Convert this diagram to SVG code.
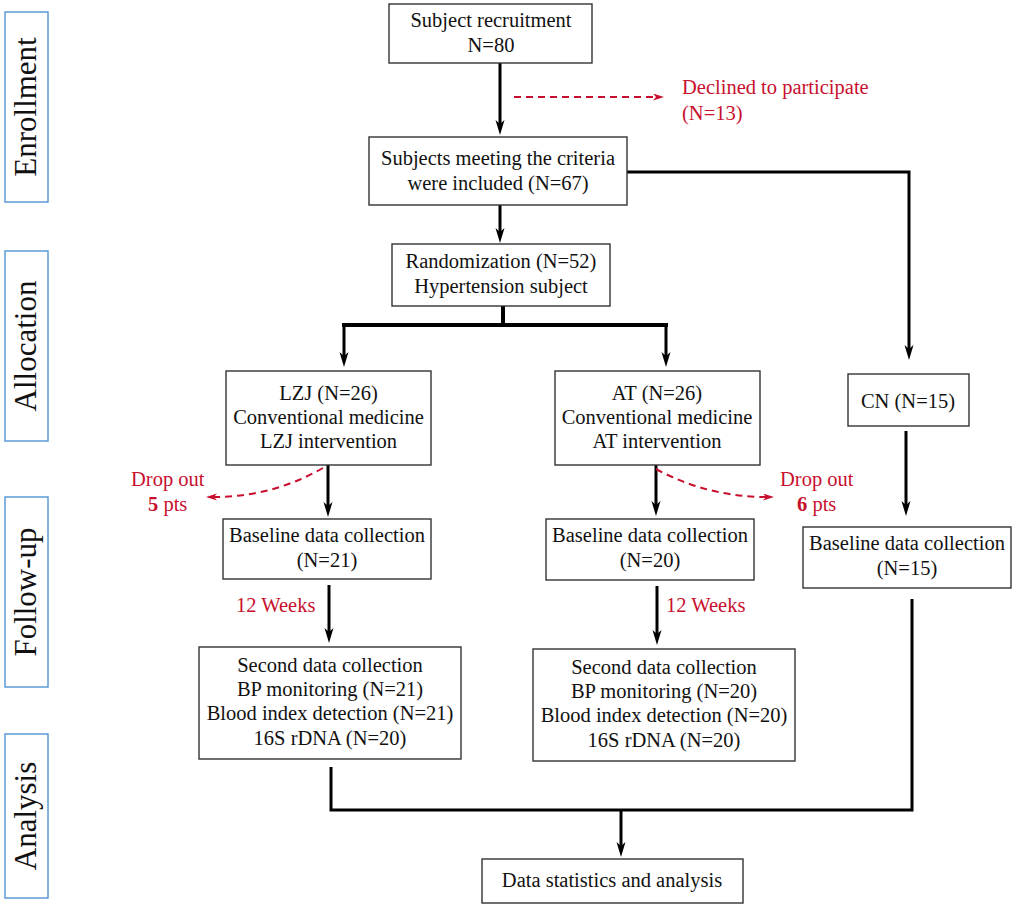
<svg xmlns="http://www.w3.org/2000/svg" width="1013" height="908" viewBox="0 0 1013 908">
<style>
.lane{fill:none;stroke:#5b9bd5;stroke-width:1.5}
.lt{font-family:"Liberation Serif","Times New Roman",serif;font-size:31px;fill:#111;text-anchor:middle}
.box{fill:#fff;stroke:#333;stroke-width:1.4}
.t{font-family:"Liberation Serif","Times New Roman",serif;font-size:20.5px;fill:#111;text-anchor:middle}
.r{font-family:"Liberation Serif","Times New Roman",serif;font-size:20.5px;fill:#c8102e}
.c{fill:none;stroke:#000;stroke-width:3}
.cb{fill:none;stroke:#000;stroke-width:4}
.d{fill:none;stroke:#c8102e;stroke-width:2;stroke-dasharray:7 5}
</style>
<defs>
<marker id="ah" markerUnits="userSpaceOnUse" markerWidth="16" markerHeight="10" refX="4" refY="4.5" orient="auto">
<path d="M0,0 L15,4.5 L0,9 L4,4.5 z" fill="#000"/>
</marker>
<marker id="ahr" markerUnits="userSpaceOnUse" markerWidth="12" markerHeight="8" refX="3" refY="3.5" orient="auto">
<path d="M0,0 L11,3.5 L0,7 L3,3.5 z" fill="#c8102e"/>
</marker>
</defs>
<rect width="1013" height="908" fill="#fff"/>
<g id="lanes">
<g id="lane-enrollment"><rect class="lane" x="5" y="12" width="43" height="190"/><text class="lt" transform="translate(36,107) rotate(-90)">Enrollment</text></g>
<g id="lane-allocation"><rect class="lane" x="5" y="251" width="43" height="190"/><text class="lt" transform="translate(36,346) rotate(-90)">Allocation</text></g>
<g id="lane-followup"><rect class="lane" x="5" y="497" width="43" height="190"/><text class="lt" transform="translate(36,592) rotate(-90)">Follow-up</text></g>
<g id="lane-analysis"><rect class="lane" x="5" y="734" width="43" height="164"/><text class="lt" transform="translate(36,816) rotate(-90)">Analysis</text></g>
</g>
<g id="connectors">
<line class="c" x1="500" y1="63" x2="500" y2="124" marker-end="url(#ah)"/>
<line class="d" x1="514" y1="97" x2="656" y2="97" marker-end="url(#ahr)"/>
<line class="c" x1="500" y1="205" x2="500" y2="232" marker-end="url(#ah)"/>
<polyline class="c" points="627,172 909,172 909,349" marker-end="url(#ah)"/>
<polyline class="cb" points="503,306 503,325"/>
<polyline class="cb" points="342,325 668,325"/>
<line class="c" x1="344" y1="325" x2="344" y2="356" marker-end="url(#ah)"/>
<line class="c" x1="666" y1="325" x2="666" y2="356" marker-end="url(#ah)"/>
<line class="c" x1="328" y1="465" x2="328" y2="506" marker-end="url(#ah)"/>
<path class="d" d="M323,468 Q272,497 214,497" marker-end="url(#ahr)"/>
<line class="c" x1="656" y1="465" x2="656" y2="505" marker-end="url(#ah)"/>
<path class="d" d="M656,469 Q708,497 766,497" marker-end="url(#ahr)"/>
<line class="c" x1="906" y1="431" x2="906" y2="505" marker-end="url(#ah)"/>
<line class="c" x1="329" y1="585" x2="329" y2="632" marker-end="url(#ah)"/>
<line class="c" x1="657" y1="586" x2="657" y2="634" marker-end="url(#ah)"/>
<polyline class="c" points="331,767 331,810 912,810 912,599"/>
<line class="c" x1="621" y1="810" x2="621" y2="846" marker-end="url(#ah)"/>
</g>
<g id="recruit"><rect class="box" x="389" y="4" width="203" height="59"/><text class="t" x="491" y="27">Subject recruitment</text><text class="t" x="491" y="52">N=80</text></g>
<g id="declined"><text class="r" x="682" y="94">Declined to participate</text><text class="r" x="682" y="120">(N=13)</text></g>
<g id="included"><rect class="box" x="369" y="137" width="258" height="68"/><text class="t" x="498" y="165">Subjects meeting the criteria</text><text class="t" x="498" y="190">were included (N=67)</text></g>
<g id="random"><rect class="box" x="392" y="244" width="218" height="62"/><text class="t" x="501" y="268">Randomization (N=52)</text><text class="t" x="501" y="293">Hypertension subject</text></g>
<g id="lzj"><rect class="box" x="226" y="371" width="205" height="94"/><text class="t" x="328.5" y="400">LZJ (N=26)</text><text class="t" x="328.5" y="424">Conventional medicine</text><text class="t" x="328.5" y="448">LZJ intervention</text></g>
<g id="at"><rect class="box" x="555" y="371" width="205" height="94"/><text class="t" x="657" y="400">AT (N=26)</text><text class="t" x="657" y="424">Conventional medicine</text><text class="t" x="657" y="448">AT intervention</text></g>
<g id="cn"><rect class="box" x="848" y="374" width="121" height="52"/><text class="t" x="908" y="408">CN (N=15)</text></g>
<g id="drop-lzj"><text class="r" x="131" y="486">Drop out</text><text class="r" x="148" y="511"><tspan font-weight="bold">5</tspan> pts</text></g>
<g id="drop-at"><text class="r" x="780" y="486">Drop out</text><text class="r" x="797" y="511"><tspan font-weight="bold">6</tspan> pts</text></g>
<g id="base-lzj"><rect class="box" x="223" y="519" width="208" height="60"/><text class="t" x="327" y="542">Baseline data collection</text><text class="t" x="327" y="567">(N=21)</text></g>
<g id="base-at"><rect class="box" x="546" y="519" width="208" height="61"/><text class="t" x="650" y="542">Baseline data collection</text><text class="t" x="650" y="567">(N=20)</text></g>
<g id="base-cn"><rect class="box" x="803" y="527" width="208" height="61"/><text class="t" x="907" y="550">Baseline data collection</text><text class="t" x="907" y="575">(N=15)</text></g>
<g id="weeks-lzj"><text class="r" x="236" y="612">12 Weeks</text></g>
<g id="weeks-at"><text class="r" x="666" y="612">12 Weeks</text></g>
<g id="second-lzj"><rect class="box" x="199" y="647" width="262" height="112"/><text class="t" x="330" y="672">Second data collection</text><text class="t" x="330" y="696">BP monitoring (N=21)</text><text class="t" x="330" y="720">Blood index detection (N=21)</text><text class="t" x="330" y="745">16S rDNA (N=20)</text></g>
<g id="second-at"><rect class="box" x="533" y="649" width="262" height="112"/><text class="t" x="664" y="674">Second data collection</text><text class="t" x="664" y="698">BP monitoring (N=20)</text><text class="t" x="664" y="722">Blood index detection (N=20)</text><text class="t" x="664" y="747">16S rDNA (N=20)</text></g>
<g id="stats"><rect class="box" x="482" y="859" width="261" height="44"/><text class="t" x="612" y="887">Data statistics and analysis</text></g>
</svg>
